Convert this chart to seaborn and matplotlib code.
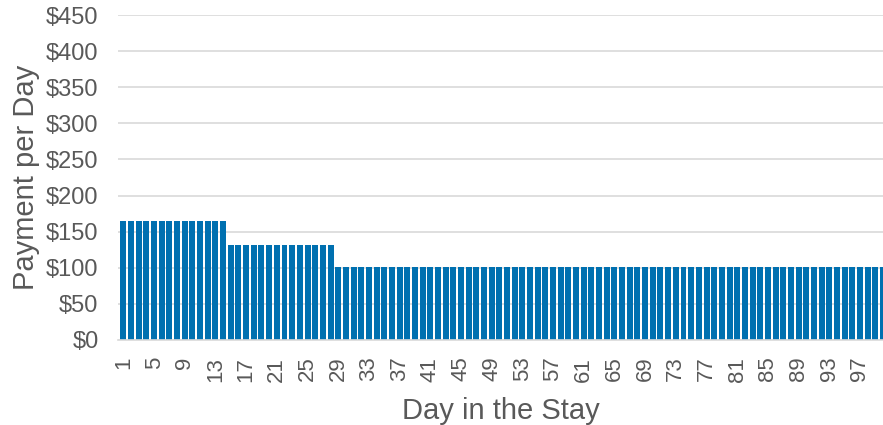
import matplotlib
matplotlib.use("Agg")
import matplotlib.pyplot as plt
import seaborn as sns
import pandas as pd

# Data
days = list(range(1, 101))
payment = (
    [165, 165, 165, 165, 165, 165, 165, 165, 165, 165, 165, 165, 165, 165]
    + [132, 132, 132, 132, 132, 132, 132, 132, 132, 132, 132, 132, 132, 132]
    + [101] * 72
)
y_ticks = [0, 50, 100, 150, 200, 250, 300, 350, 400, 450]
x_tick_days = list(range(1, 101, 4))

sns.set_theme(style="white")
plt.rcParams["font.family"] = ["Liberation Sans", "DejaVu Sans"]

df = pd.DataFrame({"day": days, "payment": payment})

fig = plt.figure(figsize=(8.83, 4.25), dpi=100)
ax = fig.add_axes([118 / 883, 1 - 340 / 425, 1 - 118 / 883, (340 - 15) / 425])

sns.barplot(data=df, x="day", y="payment", color="#0070B0", saturation=1,
            width=0.78, edgecolor="none", ax=ax, zorder=3)

ax.set_ylim(0, 450)
ax.set_xlim(-0.7, 99.0)
ax.set_yticks(y_ticks)
ax.set_yticklabels([f"${v}" for v in y_ticks])
ax.set_xticks([d - 1 for d in x_tick_days])
ax.set_xticklabels([str(d) for d in x_tick_days], rotation=90)

ax.grid(axis="y", color="#d9d9d9", linewidth=1.2, zorder=0)
ax.grid(axis="x", visible=False)
for s in ["top", "right", "left"]:
    ax.spines[s].set_visible(False)
ax.spines["bottom"].set_color("#d9d9d9")
ax.spines["bottom"].set_linewidth(1.2)
ax.spines["bottom"].set_zorder(4)

ax.tick_params(axis="y", length=0, pad=14, labelsize=17, labelcolor="#595959")
ax.tick_params(axis="x", length=0, pad=12, labelsize=16, labelcolor="#595959")

ax.set_xlabel("Day in the Stay", fontsize=21, color="#595959", labelpad=11)
ax.set_ylabel("Payment per Day", fontsize=21, color="#595959", labelpad=4)

fig.savefig("out.png", dpi=100)
